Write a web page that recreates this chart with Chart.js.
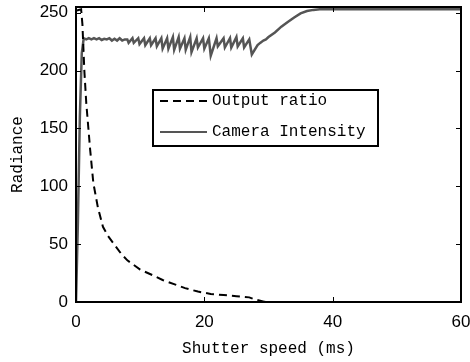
<!DOCTYPE html>
<html>
<head>
<meta charset="utf-8">
<script src="https://cdn.jsdelivr.net/npm/chart.js@4/dist/chart.umd.min.js"></script>
<style>
  html, body { margin: 0; padding: 0; background: #fff; }
  canvas { display: block; }
</style>
</head>
<body>
<canvas id="chart" width="470" height="362"></canvas>
<script>
// --- data ---
const seriesNames = ['Output ratio', 'Camera Intensity'];
const xTicks = [0, 20, 40, 60];
const yTicks = [0, 50, 100, 150, 200, 250];

// Output ratio (dashed)
const ratioX = [0.15, 0.8, 1.0, 1.3, 1.6, 2.2, 2.7, 3.4, 4.2, 5.0, 5.8, 7.0, 8.0, 10.0, 12.0, 13.5, 15.5, 17.0, 19.0, 21.0, 23.0, 25.0, 27.0, 28.0, 29.3, 30, 35, 40, 45, 50, 55, 60];
const ratioY = [252, 253, 240, 200, 172, 132, 103, 82, 65, 57, 51, 42, 36, 28, 23, 19, 15, 12, 9, 7, 6, 5, 4, 2, 0.3, 0, 0, 0, 0, 0, 0, 0];

// Camera intensity (solid grey)
const camX = [0, 0.3, 0.6, 0.9, 1.2, 1.6, 2.0, 2.4, 2.8, 3.2, 3.6, 4.0, 4.4, 4.8, 5.2, 5.6, 6.0, 6.4, 6.8, 7.2, 7.6,
  8.0, 8.2, 8.8, 9.0, 9.7, 9.9, 10.6, 10.8, 11.5, 11.7, 12.4, 12.6, 13.3, 13.5, 14.2, 14.4, 15.1, 15.3, 16.0, 16.2,
  16.9, 17.1, 17.8, 18.0, 18.8, 19.0, 19.8, 20.0, 20.7, 21.0, 21.9, 22.1, 23.0, 23.2, 24.0, 24.2, 25.0, 25.2,
  26.0, 26.2, 27.0, 27.4, 28.3, 28.7, 29.2, 29.6, 30, 31, 32, 33, 34, 35, 36, 37, 38, 40, 50, 60];
const camY = [0, 70, 160, 215, 228, 227, 228, 227, 228, 227, 228, 226.5, 227.5, 227, 228, 226, 227.5, 226, 228, 226, 227,
  227, 224, 228, 224, 228, 223, 228, 222, 228, 222, 228, 221, 228, 219, 228, 219, 229, 218, 229, 219,
  228, 218, 229, 216, 228, 220, 228, 219, 228, 213, 228, 221, 228, 220, 228, 220, 229, 221,
  228, 220, 227, 214, 222, 224, 226, 227, 229, 233, 238, 242, 246, 249.5, 251.5, 252.5, 253, 253, 253, 253];

const toPoints = (xs, ys) => xs.map((x, i) => ({ x: x, y: ys[i] }));

const monoFont = '"Liberation Mono", "DejaVu Sans Mono", monospace';
const tickFont = '"Liberation Sans", Arial, sans-serif';

// Frame, inward ticks on all four sides, and the boxed legend
const matlabAxes = {
  id: 'matlabAxes',
  afterDatasetsDraw(chart) {
    const { ctx, chartArea: a, scales } = chart;
    ctx.save();
    ctx.strokeStyle = '#000';
    ctx.lineWidth = 1;
    const tl = 5;
    xTicks.forEach(v => {
      const px = Math.round(scales.x.getPixelForValue(v)) + 0.5;
      ctx.beginPath();
      ctx.moveTo(px, a.bottom); ctx.lineTo(px, a.bottom - tl);
      ctx.moveTo(px, a.top); ctx.lineTo(px, a.top + tl);
      ctx.stroke();
    });
    yTicks.forEach(v => {
      const py = Math.round(scales.y.getPixelForValue(v)) + 0.5;
      ctx.beginPath();
      ctx.moveTo(a.left, py); ctx.lineTo(a.left + tl, py);
      ctx.moveTo(a.right, py); ctx.lineTo(a.right - tl, py);
      ctx.stroke();
    });
    ctx.lineWidth = 2;
    ctx.strokeRect(a.left, a.top, a.right - a.left, a.bottom - a.top);

    // legend box
    const box = { x: 153, y: 90, w: 225, h: 56 };
    ctx.fillStyle = '#fff';
    ctx.fillRect(box.x, box.y, box.w, box.h);
    ctx.lineWidth = 2;
    ctx.strokeRect(box.x, box.y, box.w, box.h);
    const rows = [101, 132];
    chart.data.datasets.forEach((ds, i) => {
      ctx.beginPath();
      ctx.strokeStyle = ds.borderColor;
      ctx.lineWidth = 2;
      ctx.setLineDash(ds.borderDash || []);
      ctx.moveTo(160, rows[i]);
      ctx.lineTo(207, rows[i]);
      ctx.stroke();
      ctx.setLineDash([]);
      ctx.fillStyle = '#000';
      ctx.font = '16px ' + monoFont;
      ctx.textBaseline = 'middle';
      ctx.textAlign = 'left';
      ctx.fillText(ds.label, 212, rows[i]);
    });
    ctx.restore();
  }
};

new Chart(document.getElementById('chart').getContext('2d'), {
  type: 'line',
  data: {
    datasets: [
      { label: seriesNames[0], data: toPoints(ratioX, ratioY), borderColor: '#000', borderWidth: 2,
        borderDash: [8, 5], pointRadius: 0, tension: 0, fill: false },
      { label: seriesNames[1], data: toPoints(camX, camY), borderColor: '#555', borderWidth: 2.5,
        pointRadius: 0, tension: 0, fill: false }
    ]
  },
  options: {
    responsive: false,
    animation: false,
    devicePixelRatio: 1,
    layout: { padding: { top: 7, right: 9, left: 0, bottom: 0 } },
    plugins: { legend: { display: false }, tooltip: { enabled: false } },
    scales: {
      x: {
        type: 'linear', min: 0, max: 60,
        afterFit: s => { s.height = 60; s.paddingLeft = 0; s.paddingRight = 0; },
        afterBuildTicks: s => { s.ticks = xTicks.map(v => ({ value: v })); },
        grid: { display: false, drawTicks: false },
        border: { display: false },
        ticks: { padding: 10, color: '#000', font: { family: tickFont, size: 17 }, maxRotation: 0 },
        title: { display: true, text: 'Shutter speed (ms)', color: '#000',
                 font: { family: monoFont, size: 16 }, padding: { top: 0, bottom: 4 } }
      },
      y: {
        type: 'linear', min: 0, max: 255,
        afterFit: s => { s.width = 76; s.paddingTop = 0; s.paddingBottom = 0; },
        afterBuildTicks: s => { s.ticks = yTicks.map(v => ({ value: v })); },
        grid: { display: false, drawTicks: false },
        border: { display: false },
        ticks: { padding: 8, color: '#000', font: { family: tickFont, size: 17 } },
        title: { display: true, text: 'Radiance', color: '#000',
                 font: { family: monoFont, size: 16 }, padding: { top: 8, bottom: 0 } }
      }
    }
  },
  plugins: [matlabAxes]
});
</script>
</body>
</html>
